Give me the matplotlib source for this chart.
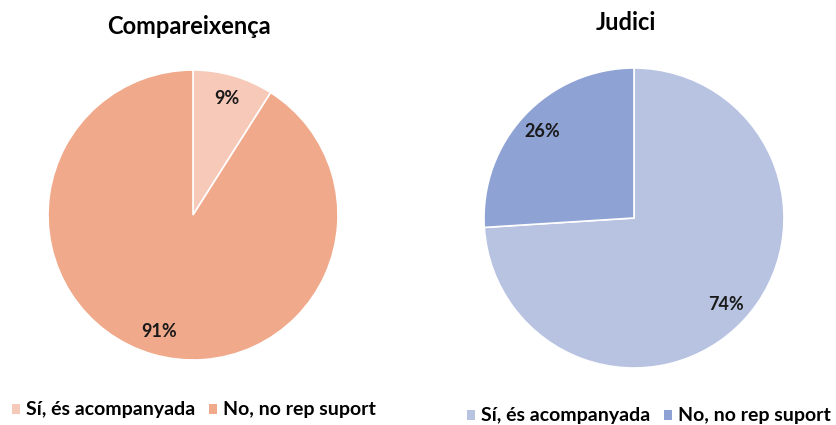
import matplotlib.pyplot as plt
from matplotlib.patches import Patch

plt.rcParams['font.family'] = ['Lato', 'DejaVu Sans']

labels = ['Sí, és acompanyada', 'No, no rep suport']
comp_vals = [9, 91]
judici_vals = [74, 26]
comp_colors = ['#F6C9B8', '#F0A98A']
judici_colors = ['#B8C3E2', '#8FA2D4']

fig = plt.figure(figsize=(8.37, 4.25), dpi=100)

def draw_pie(rect, vals, colors, title, title_xy):
    ax = fig.add_axes(rect)
    ax.pie(vals, colors=colors, startangle=90, counterclock=False,
           autopct='%1.0f%%', pctdistance=0.84,
           wedgeprops=dict(edgecolor='white', linewidth=1.2),
           textprops=dict(fontsize=13, fontweight='bold', color='#1a1a1a'))
    ax.set_xlim(-1, 1)
    ax.set_ylim(-1, 1)
    ax.set_aspect('equal')
    fig.text(title_xy[0], title_xy[1], title, ha='center', va='center',
             fontsize=17, fontweight='bold')
    return ax

# Compareixença
draw_pie([193/837 - 145/837, 1 - 215/425 - 145/425, 290/837, 290/425],
         comp_vals, comp_colors, 'Compareixença', (189/837, 1 - 27/425))
# Judici
draw_pie([634/837 - 150/837, 1 - 218/425 - 150/425, 300/837, 300/425],
         judici_vals, judici_colors, 'Judici', (626/837, 1 - 22/425))

def add_legend(colors, x, y):
    handles = [Patch(facecolor=c, edgecolor='none') for c in colors]
    fig.legend(handles, labels, loc='center left', bbox_to_anchor=(x, y),
               ncol=2, frameon=False, handlelength=0.42,
               handleheight=0.42, handletextpad=0.3, columnspacing=0.7,
               borderpad=0, borderaxespad=0,
               prop=dict(weight='bold', size=14))

add_legend(comp_colors, 12/837, 1 - 410/425)
add_legend(judici_colors, 467/837, 1 - 416/425)

fig.savefig('out.png', dpi=100, facecolor='white')
